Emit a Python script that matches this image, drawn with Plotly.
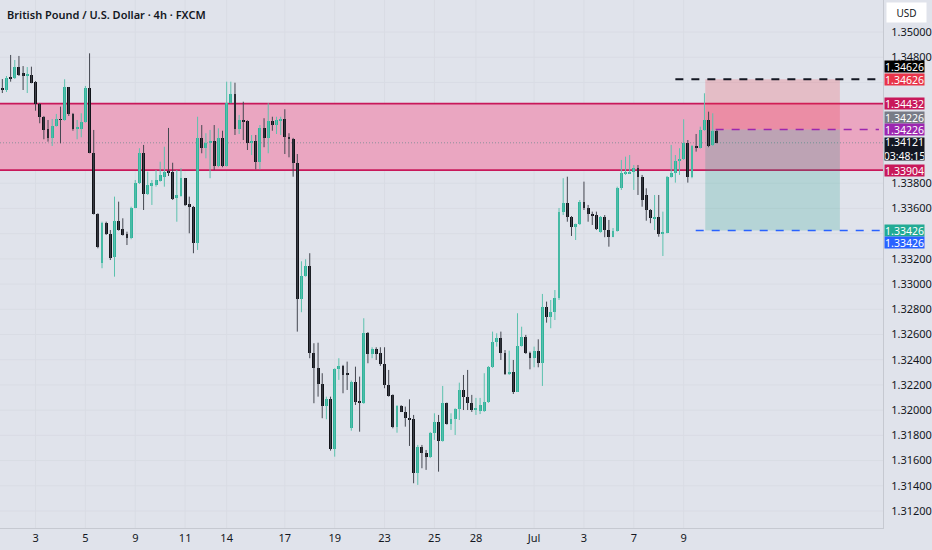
import plotly.graph_objects as go

# ---------------- data (GBPUSD 4h, FXCM) ----------------
opens = [1.34556,1.34540,1.34638,1.34633,1.34720,1.34671,1.34651,1.34659,1.34601,1.34429,
 1.34323,1.34228,1.34157,1.34254,1.34308,1.34302,1.34561,1.34350,1.34235,1.34228,
 1.34289,1.34554,1.34043,1.33556,1.33170,1.33487,1.33398,1.33213,1.33503,1.33435,
 1.33395,1.33364,1.33602,1.33800,1.34038,1.33715,1.33781,1.33786,1.33820,1.33852,
 1.33890,1.33892,1.33681,1.33699,1.33840,1.33636,1.33614,1.33329,1.34157,1.34078,
 1.34117,1.34135,1.33937,1.34157,1.33937,1.34439,1.34506,1.34228,1.34302,1.34294,
 1.34122,1.34135,1.33971,1.34241,1.34157,1.34294,1.34262,1.34297,1.34310,1.34170,
 1.34151,1.33963,1.32880,1.33065,1.33144,1.32451,1.32332,1.32208,1.32033,1.32091,
 1.31690,1.32324,1.32353,1.32287,1.31856,1.32226,1.32075,1.32055,1.32615,1.32446,
 1.32488,1.32451,1.32366,1.32200,1.32121,1.31864,1.32036,1.31988,1.31933,1.31930,
 1.31499,1.31706,1.31663,1.31626,1.31821,1.31909,1.31758,1.32055,1.31890,1.31930,
 1.32007,1.32160,1.32107,1.32060,1.32009,1.31996,1.31996,1.32067,1.32340,1.32543,
 1.32570,1.32456,1.32287,1.32305,1.32147,1.32509,1.32583,1.32456,1.32412,1.32472,
 1.32372,1.32816,1.32742,1.32781,1.32888,1.33575,1.33646,1.33535,1.33456,1.33477,
 1.33654,1.33602,1.33556,1.33548,1.33416,1.33535,1.33429,1.33376,1.33424,1.33760,
 1.33879,1.33879,1.33890,1.33919,1.33852,1.33707,1.33588,1.33522,1.33535,1.33398,
 1.33408,1.33848,1.33879,1.33979,1.33993,1.34122,1.33848,1.34096,1.34078,1.34223,
 1.34302,1.34104,1.34217]
highs = [1.34627,1.34651,1.34818,1.34778,1.34810,1.34730,1.34722,1.34725,1.34611,1.34437,
 1.34334,1.34302,1.34310,1.34350,1.34408,1.34625,1.34564,1.34358,1.34302,1.34355,
 1.34572,1.34831,1.34223,1.33562,1.33495,1.33495,1.33429,1.33694,1.33654,1.33522,
 1.33416,1.33614,1.33826,1.34078,1.34104,1.33892,1.33826,1.33905,1.33971,1.34090,
 1.34239,1.33963,1.33905,1.33919,1.33842,1.33694,1.33620,1.34328,1.34262,1.34197,
 1.34223,1.34262,1.34236,1.34217,1.34606,1.34606,1.34598,1.34342,1.34447,1.34300,
 1.34183,1.34183,1.34262,1.34316,1.34435,1.34328,1.34328,1.34328,1.34387,1.34197,
 1.34160,1.34032,1.33181,1.33197,1.33245,1.32531,1.32535,1.32293,1.32107,1.32107,
 1.32332,1.32412,1.32359,1.32385,1.32235,1.32345,1.32266,1.32729,1.32620,1.32499,
 1.32499,1.32499,1.32499,1.32319,1.32125,1.32040,1.32040,1.32028,1.32086,1.31962,
 1.31724,1.31724,1.31684,1.31827,1.31975,1.31962,1.32192,1.32060,1.31975,1.32015,
 1.32218,1.32279,1.32319,1.32121,1.32097,1.32097,1.32293,1.32350,1.32623,1.32610,
 1.32623,1.32477,1.32472,1.32398,1.32769,1.32662,1.32597,1.32464,1.32504,1.32562,
 1.32922,1.32861,1.32874,1.32953,1.33604,1.33840,1.33852,1.33540,1.33480,1.33667,
 1.33813,1.33628,1.33575,1.33575,1.33540,1.33548,1.33509,1.33445,1.33773,1.33985,
 1.34011,1.34024,1.33945,1.33945,1.33866,1.33760,1.33595,1.33707,1.33707,1.33575,
 1.33858,1.34104,1.34024,1.34078,1.34308,1.34143,1.34104,1.34191,1.34249,1.34514,
 1.34368,1.34355,1.34223]
lows = [1.34516,1.34524,1.34606,1.34627,1.34651,1.34540,1.34516,1.34593,1.34376,1.34276,
 1.34149,1.34130,1.34096,1.34249,1.34117,1.34296,1.34334,1.34217,1.34149,1.34165,
 1.34281,1.34038,1.33552,1.33284,1.33126,1.33390,1.33191,1.33059,1.33424,1.33385,
 1.33310,1.33356,1.33602,1.33794,1.33588,1.33707,1.33628,1.33773,1.33813,1.33773,
 1.33858,1.33667,1.33495,1.33694,1.33620,1.33403,1.33245,1.33271,1.34038,1.33998,
 1.33840,1.33905,1.33927,1.33927,1.33932,1.34435,1.34183,1.34191,1.34143,1.34064,
 1.34024,1.33911,1.33911,1.34086,1.34038,1.34217,1.34191,1.34183,1.34032,1.34006,
 1.33852,1.32623,1.32777,1.33059,1.32412,1.32055,1.32107,1.31936,1.31928,1.31679,
 1.31631,1.32240,1.32134,1.32160,1.31837,1.32041,1.31829,1.32050,1.32372,1.32412,
 1.32398,1.32351,1.32174,1.32107,1.31856,1.31821,1.31985,1.31869,1.31716,1.31420,
 1.31407,1.31539,1.31526,1.31620,1.31764,1.31512,1.31750,1.31885,1.31843,1.31803,
 1.31922,1.32001,1.32001,1.31986,1.31962,1.31969,1.31986,1.32057,1.32335,1.32504,
 1.32398,1.32279,1.32279,1.32128,1.32144,1.32504,1.32446,1.32324,1.32340,1.32340,
 1.32192,1.32694,1.32650,1.32715,1.32874,1.33548,1.33495,1.33382,1.33350,1.33469,
 1.33588,1.33495,1.33469,1.33429,1.33408,1.33372,1.33297,1.33372,1.33416,1.33747,
 1.33866,1.33874,1.33747,1.33707,1.33614,1.33503,1.33483,1.33429,1.33376,1.33223,
 1.33403,1.33845,1.33805,1.33866,1.33985,1.33805,1.33840,1.34051,1.34075,1.34217,
 1.34086,1.34096,1.34117]
closes = [1.34540,1.34639,1.34635,1.34720,1.34659,1.34651,1.34663,1.34598,1.34429,1.34323,
 1.34223,1.34157,1.34257,1.34310,1.34305,1.34566,1.34350,1.34228,1.34239,1.34289,
 1.34554,1.34043,1.33556,1.33297,1.33487,1.33398,1.33205,1.33503,1.33429,1.33390,
 1.33364,1.33602,1.33800,1.34038,1.33715,1.33786,1.33800,1.33826,1.33866,1.33892,
 1.33882,1.33673,1.33707,1.33840,1.33628,1.33614,1.33329,1.34157,1.34078,1.34117,
 1.34135,1.33937,1.34157,1.33937,1.34439,1.34506,1.34228,1.34302,1.34289,1.34122,
 1.34135,1.33971,1.34241,1.34157,1.34294,1.34262,1.34302,1.34310,1.34170,1.34151,
 1.33963,1.32880,1.33065,1.33144,1.32451,1.32332,1.32208,1.32033,1.32091,1.31690,
 1.32324,1.32353,1.32279,1.32282,1.32226,1.32067,1.32055,1.32615,1.32446,1.32483,
 1.32446,1.32366,1.32200,1.32113,1.31864,1.32036,1.31988,1.31936,1.31928,1.31499,
 1.31706,1.31658,1.31626,1.31821,1.31909,1.31758,1.32055,1.31890,1.31930,1.32007,
 1.32160,1.32107,1.32055,1.32001,1.32017,1.32041,1.32067,1.32340,1.32543,1.32570,
 1.32456,1.32287,1.32305,1.32147,1.32509,1.32583,1.32456,1.32412,1.32472,1.32372,
 1.32816,1.32742,1.32781,1.32888,1.33575,1.33646,1.33535,1.33456,1.33477,1.33654,
 1.33602,1.33556,1.33543,1.33435,1.33535,1.33429,1.33376,1.33424,1.33760,1.33879,
 1.33890,1.33890,1.33919,1.33852,1.33667,1.33588,1.33522,1.33535,1.33398,1.33416,
 1.33852,1.33879,1.33979,1.33993,1.34122,1.33848,1.34096,1.34078,1.34223,1.34302,
 1.34096,1.34217,1.34121]

tick_bars = [8, 20, 32, 44, 54, 68, 80, 92, 104, 114, 128, 140, 152, 164]
tick_text = ["3", "5", "9", "11", "14", "17", "19", "23", "25", "28", "Jul", "3", "7", "9"]
price_ticks = [round(1.312 + 0.002 * k, 3) for k in range(20)]
hidden_price_ticks = [1.334, 1.340, 1.342, 1.344, 1.346]   # covered by price labels

zone_top, zone_bottom = 1.34432, 1.33904
target_level, entry_level, stop_level = 1.34626, 1.34226, 1.33426
last_price = 1.34121
countdown = "03:48:15"
box_start_bar, box_end_bar = 169.2, 201.6
# ---------------------------------------------------------

UP = "#2fb29a"
DOWN = "#111318"
BG = "#e0e3eb"
GRID = "#d9dce4"
TXT = "#131722"
FONT = "Noto Sans"

n = len(opens)
xs = list(range(n))
up_idx = [i for i in xs if closes[i] >= opens[i]]
dn_idx = [i for i in xs if closes[i] < opens[i]]

def wick_xy(idx):
    wx, wy = [], []
    for i in idx:
        wx += [i, i, None]
        wy += [lows[i], highs[i], None]
    return wx, wy

fig = go.Figure()
for idx, col in ((up_idx, "#5cc2ae"), (dn_idx, "#444750")):
    wx, wy = wick_xy(idx)
    fig.add_trace(go.Scatter(x=wx, y=wy, mode="lines", line=dict(color=col, width=1),
                             hoverinfo="skip", showlegend=False))

bases = [min(o, c) for o, c in zip(opens, closes)]
heights = [max(abs(c - o), 0.00003) for o, c in zip(opens, closes)]
colors = [UP if closes[i] >= opens[i] else DOWN for i in xs]
fig.add_trace(go.Bar(x=xs, y=heights, base=bases, marker=dict(color=colors, line=dict(width=0)),
                     width=0.7, showlegend=False, hoverinfo="skip"))

shapes = []
# grid (drawn as shapes so the zone can cover it)
for t in tick_bars:
    shapes.append(dict(type="line", xref="x", x0=t, x1=t, yref="paper", y0=0, y1=1,
                       line=dict(color=GRID, width=1), layer="below"))
for p in price_ticks:
    shapes.append(dict(type="line", xref="paper", x0=0, x1=1, yref="y", y0=p, y1=p,
                       line=dict(color=GRID, width=1), layer="below"))
shapes.append(dict(type="rect", xref="paper", x0=0, x1=1, yref="y", y0=zone_bottom, y1=zone_top,
                   fillcolor="#eaa6c1", line=dict(width=0), layer="below"))
shapes.append(dict(type="rect", xref="x", x0=box_start_bar, x1=box_end_bar, yref="y",
                   y0=entry_level, y1=target_level, fillcolor="rgba(242,54,69,0.22)",
                   line=dict(width=0), layer="below"))
shapes.append(dict(type="rect", xref="x", x0=box_start_bar, x1=box_end_bar, yref="y",
                   y0=stop_level, y1=entry_level, fillcolor="rgba(8,153,129,0.2)",
                   line=dict(width=0), layer="below"))
for lvl in (zone_top, zone_bottom):
    shapes.append(dict(type="line", xref="paper", x0=0, x1=1, yref="y", y0=lvl, y1=lvl,
                       line=dict(color="#c8185a", width=1.6), layer="below"))
shapes.append(dict(type="line", xref="paper", x0=0, x1=1, yref="y", y0=last_price, y1=last_price,
                   line=dict(color="#8d909a", width=1, dash="1px,2px"), layer="below"))
shapes.append(dict(type="line", xref="x", x0=162.0, x1=211.6, yref="y", y0=target_level, y1=target_level,
                   line=dict(color="#131722", width=2, dash="8px,8px")))
shapes.append(dict(type="line", xref="x", x0=171.7, x1=211.0, yref="y", y0=entry_level, y1=entry_level,
                   line=dict(color="#9c27b0", width=1.5, dash="8px,8px")))
shapes.append(dict(type="line", xref="x", x0=166.9, x1=211.6, yref="y", y0=stop_level, y1=stop_level,
                   line=dict(color="#2962ff", width=1.5, dash="8px,8px")))

ann = []
ann.append(dict(xref="paper", yref="paper", x=0, y=1, xanchor="left", yanchor="top",
                xshift=5, yshift=-5, showarrow=False,
                text="British Pound / U.S. Dollar · 4h · FXCM",
                font=dict(family=FONT, size=11, color=TXT, weight=600)))
ann.append(dict(xref="paper", yref="paper", x=1, y=1, xanchor="left", yanchor="top",
                xshift=3, yshift=-2, showarrow=False, text="USD", bgcolor="#ffffff",
                width=37, height=17, font=dict(family=FONT, size=10, color=TXT)))

def price_label(level, text, bg, shift=0, h=11):
    ann.append(dict(xref="paper", yref="y", x=1, y=level, xanchor="left", yanchor="middle",
                    xshift=1, yshift=shift, showarrow=False, text=text, bgcolor=bg,
                    width=39, height=h, borderpad=0, align="center",
                    font=dict(family=FONT, size=10.5, color="#ffffff")))

price_label(target_level, f"{target_level:.5f}", "#000000", shift=13)
price_label(target_level, f"{target_level:.5f}", "#e8344a")
price_label(zone_top, f"{zone_top:.5f}", "#c8185a")
price_label(entry_level, f"{entry_level:.5f}", "#787b86", shift=12.5)
price_label(entry_level, f"{entry_level:.5f}", "#9c27b0")
ann.append(dict(xref="paper", yref="y", x=1, y=last_price, xanchor="left", yanchor="top",
                xshift=1, yshift=6, showarrow=False, text=f"{last_price:.5f}<br>{countdown}",
                bgcolor="#131722", width=39, height=22, borderpad=0, align="center",
                font=dict(family=FONT, size=10.5, color="#ffffff")))
price_label(zone_bottom, f"{zone_bottom:.5f}", "#c8185a")
price_label(stop_level, f"{stop_level:.5f}", "#22ab94")
price_label(stop_level, f"{stop_level:.5f}", "#2962ff", shift=-12.5)

fig.update_layout(
    width=932, height=550,
    margin=dict(l=0, r=46, t=0, b=22, pad=0),
    paper_bgcolor=BG, plot_bgcolor=BG,
    barmode="overlay", bargap=0,
    shapes=shapes, annotations=ann,
    font=dict(family=FONT, size=11, color=TXT),
    xaxis=dict(range=[-0.56, 211.98], tickvals=tick_bars, ticktext=tick_text,
               showgrid=False, zeroline=False,
               showline=True, linecolor="#c6c9d1", linewidth=1, ticks="",
               tickfont=dict(family=FONT, size=11, color=TXT), fixedrange=True),
    yaxis=dict(range=[1.31065, 1.35254], side="right", tickvals=price_ticks,
               ticktext=["" if p in hidden_price_ticks else f"{p:.5f}" for p in price_ticks],
               showgrid=False, zeroline=False,
               showline=True, linecolor="#c6c9d1", linewidth=1, ticks="",
               ticklabelstandoff=5,
               tickfont=dict(family=FONT, size=11, color=TXT), fixedrange=True),
    showlegend=False,
)

fig.write_html("out.html", config={"displayModeBar": False},
               post_script="document.body.style.margin='0';document.body.style.background='%s';" % BG)
